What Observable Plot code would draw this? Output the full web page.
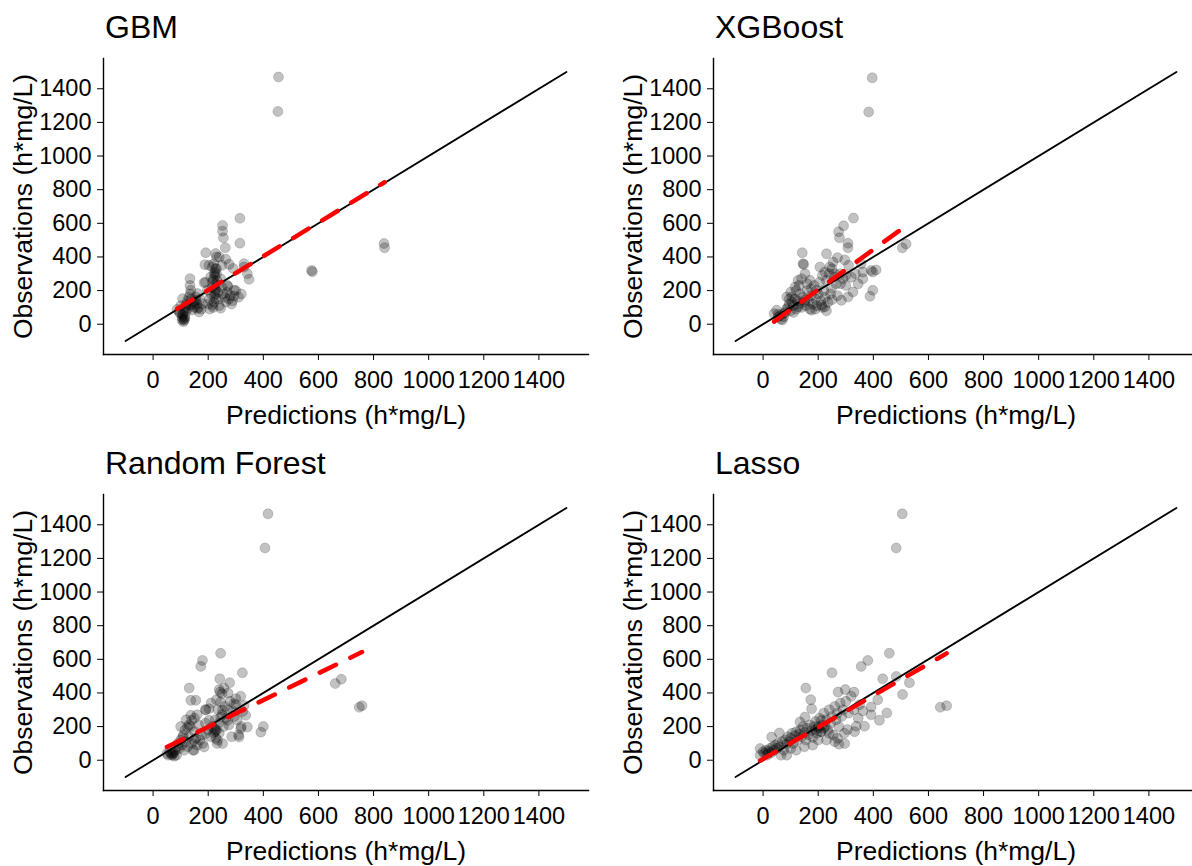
<!DOCTYPE html>
<html><head><meta charset="utf-8">
<script src="https://cdn.jsdelivr.net/npm/d3@7"></script>
<script src="https://cdn.jsdelivr.net/npm/@observablehq/plot@0.6"></script>
<style>
body{margin:0;background:#fff;overflow:hidden;font-family:"Liberation Sans",Arial,sans-serif;}
#wrap{position:relative;width:1192px;height:866px;overflow:hidden;background:#fff;}
.panel{position:absolute;width:596px;height:434px;}
.ttl{position:absolute;left:105px;top:11px;font-size:32px;line-height:32px;color:#000;white-space:nowrap;}
svg g[aria-label$="axis label"], svg g[aria-label$="axis label"] text{font-size:26.5px;}
</style></head><body><div id="wrap"></div>
<script>
const models = ["GBM", "XGBoost", "Random Forest", "Lasso"];
const xTicks = [0, 200, 400, 600, 800, 1000, 1200, 1400];
const yTicks = [0, 200, 400, 600, 800, 1000, 1200, 1400];
const identityRange = [-100, 1500];
const xLabel = "Predictions (h*mg/L)";
const yLabel = "Observations (h*mg/L)";

// GBM
const gbmPred = [455,453,838,840,575,578,315,252,252,255,262,315,191,227,230,264,188,203,276,290,330,342,348,330,
224,224,185,134,134,137,107,270,294,294,264,288,227,225,227,215,179,167,149,125,107,113,95,87,
197,161,155,137,161,119,209,215,233,215,
105,110,108,115,112,118,125,130,135,140,145,150,155,160,165,170,175,120,128,142,100,98,110,105,115,
218,220,222,225,228,230,232,235,238,240,215,210,205,200,245,250,255,260,268,275,280,285,230,220,240,250,300,310,320,205,245,218,222,226,190,270];
const gbmObs = [1470,1265,480,455,320,312,630,587,553,514,455,482,425,420,400,386,354,350,356,332,360,300,267,340,
310,285,247,271,231,202,152,231,202,168,132,140,202,182,152,113,122,73,132,113,53,24,73,88,
202,182,162,113,93,73,281,251,231,340,
40,30,60,45,80,100,140,160,180,150,120,100,140,120,100,150,90,120,95,85,110,65,15,25,35,
100,130,170,210,240,300,260,190,150,110,220,180,150,120,270,220,180,160,190,150,170,120,330,360,400,350,200,160,180,90,95,265,300,330,250,225];

// XGBoost
const xgbPred = [396,383,505,519,328,292,274,277,308,308,142,147,145,230,270,254,296,206,242,224,258,356,392,410,398,362,362,398,388,326,308,284,250,212,194,170,152,127,116,104,86,49,55,40,73,127,152,176,224,248,281,
60,65,70,55,75,80,85,90,95,100,105,110,115,120,125,130,135,140,145,150,155,160,165,170,175,180,185,190,195,200,205,210,215,220,225,230,235,240,245,250,260,265,270,280,290,300,310,320,335,345,300,130,140,160,175,120,100,95,110,190,215,230];
const xgbObs = [1465,1262,454,477,631,585,550,514,481,455,425,355,360,419,396,370,382,340,340,310,281,360,320,323,310,310,270,202,166,192,162,142,146,113,202,261,300,261,221,162,162,83,43,63,63,103,142,83,103,214,241,
50,30,25,60,45,70,90,100,120,80,130,110,150,90,140,120,180,100,160,130,110,200,140,90,170,120,230,150,110,180,250,140,290,200,160,260,130,300,180,330,300,240,170,300,270,230,350,280,300,240,290,230,270,240,210,200,190,150,70,90,100,80];

// Random Forest
const rfPred = [417,406,748,758,661,683,391,400,245,179,173,324,242,278,131,257,272,243,137,155,203,191,300,318,245,252,294,330,336,342,318,312,270,245,203,137,140,125,107,89,65,77,113,149,149,185,191,227,234,252,
50,55,60,70,75,80,85,90,95,100,105,110,115,120,125,130,135,140,145,150,155,160,165,170,175,180,190,200,210,215,220,225,228,230,232,235,238,240,250,255,260,265,270,275,280,285,290,295,300,305,310,320,325,150,120,100,130,160,190,210,230,250,240,68,72,225,222];
const rfObs = [1465,1262,315,324,456,482,167,200,636,593,558,520,484,461,429,429,399,405,356,356,306,300,366,380,346,297,336,326,267,198,188,138,237,257,237,267,237,198,138,79,40,24,59,59,119,79,158,178,119,99,
40,30,50,35,45,60,30,100,70,120,90,150,180,110,80,140,200,100,60,170,130,90,210,120,150,100,220,180,140,200,160,240,130,180,100,300,220,160,270,200,320,250,300,210,350,140,290,260,330,240,150,200,290,250,240,200,210,270,300,340,360,395,420,30,45,170,190];

// Lasso
const lassoPred = [505,483,643,666,458,380,356,250,434,483,531,506,155,173,272,298,330,416,392,362,392,449,422,338,368,306,275,296,332,59,31,-11,-11,19,86,134,152,176,212,
0,5,10,15,20,25,30,35,40,45,50,55,60,65,70,75,80,85,90,95,100,105,110,115,120,125,130,135,140,145,150,155,160,165,170,175,180,185,190,195,200,205,210,215,220,225,230,235,240,245,250,255,260,265,270,275,280,285,290,295,300,310,320,330,345,350,180,200,230,260,150,120,100,240,270,190,210,220,200];
const lassoObs = [1465,1262,315,324,636,593,558,520,484,498,461,391,429,360,405,420,405,360,316,293,270,281,237,202,202,182,95,99,170,162,138,69,30,43,30,227,257,306,237,
50,40,60,30,55,70,45,80,60,90,70,100,80,30,110,60,120,95,140,110,130,160,100,145,170,120,155,180,140,200,165,120,190,150,210,175,135,200,230,160,190,250,170,210,280,200,240,180,300,220,260,150,320,240,280,200,340,260,300,160,350,280,380,300,250,330,90,120,120,110,80,60,70,160,130,180,170,190,200];

const predSets = [gbmPred, xgbPred, rfPred, lassoPred];
const obsSets = [gbmObs, xgbObs, rfObs, lassoObs];
// red dashed linear fit: obs = intercept + slope * pred
const fitIntercept = [4, -32, 38.8, 7.5];
const fitSlope = [1.0, 1.19, 0.797, 0.943];

const panelLeft = [0, 610, 0, 610];
const panelTop = [0, 0, 436, 436];

const wrap = document.getElementById("wrap");
models.forEach((name, i) => {
  const pred = predSets[i], obs = obsSets[i];
  const pts = pred.map((p, j) => ({pred: p, obs: obs[j]}));
  const ident = identityRange.map(v => ({x: v, y: v}));
  const xr = [d3.min(pred), d3.max(pred)];
  const fit = xr.map(x => ({x, y: fitIntercept[i] + fitSlope[i] * x}));
  const chart = Plot.plot({
    width: 596, height: 430,
    marginLeft: 103, marginRight: 8, marginTop: 58, marginBottom: 76,
    x: {domain: [-180, 1580]},
    y: {domain: [-180, 1580]},
    style: {fontFamily: '"Liberation Sans", Arial, sans-serif', fontSize: "23.5px", color: "black", background: "white", overflow: "visible"},
    marks: [
      Plot.dot(pts, {x: "pred", y: "obs", r: 5, fill: "black", fillOpacity: 0.24, stroke: "black", strokeOpacity: 0.2, strokeWidth: 0.8}),
      Plot.line(ident, {x: "x", y: "y", stroke: "black", strokeWidth: 1.8}),
      Plot.line(fit, {x: "x", y: "y", stroke: "#ff0000", strokeWidth: 4.5, strokeDasharray: "18,16"}),
      Plot.axisX({ticks: xTicks, tickFormat: d => String(d), tickSize: 6, tickPadding: 11, label: xLabel, labelAnchor: "center", labelArrow: "none", labelOffset: 69}),
      Plot.axisY({ticks: yTicks, tickFormat: d => String(d), tickSize: 6, tickPadding: 6, label: yLabel, labelAnchor: "center", labelArrow: "none", labelOffset: 90}),
      Plot.frame({anchor: "left", stroke: "black", strokeWidth: 1.4}),
      Plot.frame({anchor: "bottom", stroke: "black", strokeWidth: 1.4})
    ]
  });
  const div = document.createElement("div");
  div.className = "panel";
  div.style.left = panelLeft[i] + "px";
  div.style.top = panelTop[i] + "px";
  div.appendChild(chart);
  const t = document.createElement("div");
  t.className = "ttl";
  t.textContent = name;
  div.appendChild(t);
  wrap.appendChild(div);
});
</script></body></html>
